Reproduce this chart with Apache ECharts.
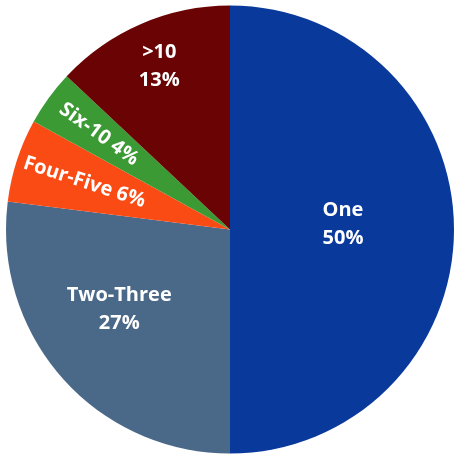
<!DOCTYPE html>
<html>
<head>
<meta charset="utf-8">
<script src="https://cdn.jsdelivr.net/npm/echarts@6/dist/echarts.min.js"></script>
<style>
  html, body { margin: 0; padding: 0; background: #ffffff; }
  #chart { width: 454px; height: 456px; }
</style>
</head>
<body>
<div id="chart"></div>
<script>
// Share of households by number of members
const categories = ['One', 'Two-Three', 'Four-Five', 'Six-10', '>10'];
const shares = [50, 27, 6, 4, 13];

// Slice colours and label placement (distance of each label from the centre, px)
const sliceColors = ['#0a399c', '#4a6989', '#fb4b14', '#3c9a34', '#6a0303'];
const labelDistance = [110, 134, 150, 159, 175];
const labelNudge = [[0, -5], [-8, -11], [0, 0], [0, 0], [0, 0]];
const labelInline = [false, false, true, true, false];
const labelRadial = [false, false, true, true, false];

const CENTER = [230, 229.5];
const RADIUS = 224;

const labelFont = {
  color: '#ffffff',
  fontFamily: '"Open Sans", "Noto Sans", sans-serif',
  fontWeight: 'bold',
  fontSize: 20,
  lineHeight: 28
};

const sliceSeries = {
  type: 'pie',
  center: CENTER,
  radius: [0, RADIUS],
  startAngle: 90,
  clockwise: true,
  avoidLabelOverlap: false,
  silent: true,
  label: { show: false },
  labelLine: { show: false },
  itemStyle: { borderWidth: 0 },
  data: categories.map((name, i) => ({
    name,
    value: shares[i],
    itemStyle: { color: sliceColors[i] }
  }))
};

// One transparent pie per label, sized so its inside label lands at the wanted distance
const labelSeries = categories.map((_, k) => ({
  type: 'pie',
  center: CENTER,
  radius: [0, labelDistance[k] * 2],
  startAngle: 90,
  clockwise: true,
  avoidLabelOverlap: false,
  silent: true,
  z: 5,
  labelLine: { show: false },
  itemStyle: { color: 'rgba(0,0,0,0)', borderWidth: 0 },
  emphasis: { disabled: true },
  data: categories.map((name, i) => ({
    name,
    value: shares[i],
    label: {
      show: i === k,
      position: 'inside',
      rotate: labelRadial[i] ? 'radial' : 0,
      offset: labelNudge[i],
      formatter: labelInline[i] ? '{b} {d}%' : '{b}\n{d}%',
      ...labelFont
    }
  }))
}));

const chart = echarts.init(document.getElementById('chart'), null, { renderer: 'canvas' });
chart.setOption({
  backgroundColor: '#ffffff',
  animation: false,
  series: [sliceSeries, ...labelSeries]
});
</script>
</body>
</html>
